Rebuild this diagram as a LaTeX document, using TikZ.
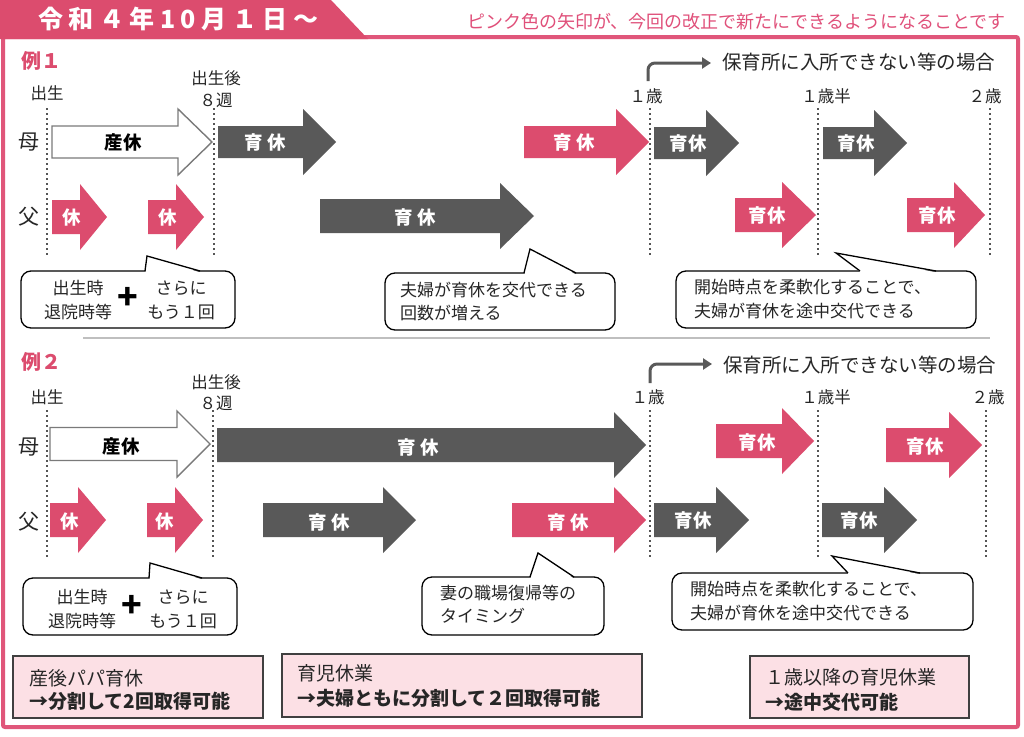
\documentclass[tikz,border=0pt]{standalone}
\usepackage{fontspec}
\setmainfont{Noto Sans CJK JP}
\usetikzlibrary{arrows.meta}
\definecolor{pk}{HTML}{DC4C6E}
\definecolor{pkframe}{HTML}{E0567A}
\definecolor{pktext}{HTML}{E0507A}
\definecolor{dk}{HTML}{595959}
\definecolor{dt}{HTML}{555555}
\definecolor{boxfill}{HTML}{FCE0E5}
\newcommand\fsz[2]{\fontsize{#1}{#2}\selectfont}
% #1 style, #2 x-start, #3 x-tip, #4 y-center, #5 head length, #6 body half height
\newcommand\harrow[6]{\path[#1] (#2,{#4-#6}) -- ({#3-#5},{#4-#6}) -- ({#3-#5},{#4-33}) -- (#3,#4) -- ({#3-#5},{#4+33}) -- ({#3-#5},{#4+#6}) -- (#2,{#4+#6}) -- cycle;}
% #1 x1, #2 top, #3 x2, #4 bottom, #5 base left, #6 base right, #7 tip x, #8 tip y
\newcommand\callout[8]{%
  \draw[callbox] (#1,#2) rectangle (#3,#4);
  \fill[white] ({#5+0.6},{#2+1.2}) -- (#7,#8) -- ({#6-0.6},{#2+1.2}) -- cycle;
  \draw[callline] (#5,#2) -- (#7,#8) -- (#6,#2);}
\begin{document}
\begin{tikzpicture}[x=1pt,y=-1pt,
  pkarrow/.style={fill=pk},
  dkarrow/.style={fill=dk},
  wharrow/.style={fill=white, draw=dk!80, line width=1.4},
  atxt/.style={text=white, font=\fsz{18.5}{20}\bfseries, inner sep=0},
  lbl/.style={font=\fsz{16.5}{20}, inner sep=0, text=black!85},
  rowlbl/.style={font=\fsz{21}{22}, inner sep=0, text=black!85},
  dotl/.style={draw=dt, line width=2.6, dash pattern=on 2.4 off 2.6},
  callbox/.style={draw=black, fill=white, line width=1.3, rounded corners=10},
  callline/.style={draw=black, line width=1.3, line join=miter},
  ctxt/.style={font=\fsz{17}{23.5}, inner sep=0, align=left, text=black!85},
  ccent/.style={font=\fsz{17}{20}, inner sep=0, text=black!85},
  plus/.style={font=\fsz{34}{34}\bfseries, inner sep=0},
  bentarrow/.style={draw=dk, line width=3, rounded corners=7, -{Triangle[length=9,width=11]}},
  benttxt/.style={font=\fsz{19.5}{22}, inner sep=0, text=black!85, anchor=west},
  botbox/.style={fill=boxfill, draw=black!75, line width=1.5},
  btxt/.style={font=\fsz{19}{22}, inner sep=0, anchor=west, text=black!85},
  exlbl/.style={font=\fsz{20}{22}\bfseries, inner sep=0, text=pk, anchor=west}]
\useasboundingbox (0,0) rectangle (1024,736);
\fill[white] (0,0) rectangle (1024,736);

% frame and header
\draw[pkframe, line width=4, rounded corners=2] (3,37) rectangle (1018,727);
\fill[pk] (0,0) -- (331,0) -- (368,39) -- (0,39) -- cycle;
\node[text=white, font=\fsz{25}{28}\bfseries\addfontfeatures{LetterSpace=22}, inner sep=0, anchor=west] (title) at (38,19) {令和４年10月１日～};
\node[text=pktext, font=\fsz{18}{20}, inner sep=0, anchor=east] (note) at (1006,22) {ピンク色の矢印が、今回の改正で新たにできるようになることです};

% ===== Example 1 =====
\node[exlbl] (ex1) at (21,61) {例１};
\foreach \x in {47,214,650,818,990} {\draw[dotl] (\x,108) -- (\x,256);}
\node[lbl] (e1birth) at (47,93) {出生};
\node[lbl] (e1after) at (216,78) {出生後};
\node[lbl] (e1w8) at (216,100) {８週};
\node[lbl] (e1y1) at (646,96) {１歳};
\node[lbl] (e1y15) at (826,96) {１歳半};
\node[lbl] (e1y2) at (985,96) {２歳};
\coordinate (b1s) at (648,81);
\coordinate (b1e) at (711,63);
\draw[bentarrow] (b1s) |- (b1e);
\node[benttxt] (b1t) at (722,62) {保育所に入所できない等の場合};
\node[rowlbl] (e1m) at (29,142) {母};
\node[rowlbl] (e1f) at (29,217) {父};

\harrow{wharrow}{52}{212}{142}{34}{16}
\harrow{dkarrow}{218}{336}{142}{33}{16}
\harrow{pkarrow}{524}{649}{142}{33}{16}
\harrow{dkarrow}{654}{739}{143}{33}{16}
\harrow{dkarrow}{823}{907}{143}{33}{16}
\harrow{pkarrow}{52}{107}{217}{27}{17}
\harrow{pkarrow}{148}{204}{217}{28}{17}
\harrow{dkarrow}{320}{534}{216}{34}{17}
\harrow{pkarrow}{735}{816}{215}{34}{17}
\harrow{pkarrow}{907}{985}{215}{31}{17}

\node[atxt, text=black] (a1) at (123,142) {産休};
\node[atxt] (a2) at (265,142) {育 休};
\node[atxt] (a3) at (574,142) {育 休};
\node[atxt] (a4) at (688,143) {育休};
\node[atxt] (a5) at (856,143) {育休};
\node[atxt] (a6) at (72,218) {休};
\node[atxt] (a7) at (168,218) {休};
\node[atxt] (a8) at (415,217) {育 休};
\node[atxt] (a9) at (767,215) {育休};
\node[atxt] (a10) at (937,215) {育休};

\callout{21}{271}{235}{328}{145}{200}{147}{256}
\node[ccent] (c1a1) at (78,288.5) {出生時};
\node[ccent] (c1a2) at (78,312.5) {退院時等};
\node[plus] (c1p) at (128,298) {+};
\node[ccent] (c1b1) at (181,288.5) {さらに};
\node[ccent] (c1b2) at (181,312.5) {もう１回};
\callout{385}{273}{615}{330}{524}{576}{530}{249}
\node[ctxt, anchor=west] (c2) at (400,301.5) {夫婦が育休を交代できる\\回数が増える};
\callout{676}{271}{976}{328}{860}{936}{836}{253}
\node[ctxt, anchor=west] (c3) at (694,299) {開始時点を柔軟化することで、\\夫婦が育休を途中交代できる};

\draw[black!25, line width=2] (83,338) -- (990,338);

% ===== Example 2 =====
\node[exlbl] (ex2) at (21,362) {例２};
\foreach \x in {47,213,650,818,986} {\draw[dotl] (\x,410) -- (\x,558);}
\node[lbl] (e2birth) at (47,397) {出生};
\node[lbl] (e2after) at (216,382) {出生後};
\node[lbl] (e2w8) at (216,403) {８週};
\node[lbl] (e2y1) at (648,397) {１歳};
\node[lbl] (e2y15) at (826,397) {１歳半};
\node[lbl] (e2y2) at (988,397) {２歳};
\coordinate (b2s) at (650,383);
\coordinate (b2e) at (712,364);
\draw[bentarrow] (b2s) |- (b2e);
\node[benttxt] (b2t) at (723,365) {保育所に入所できない等の場合};
\node[rowlbl] (e2m) at (29,447) {母};
\node[rowlbl] (e2f) at (29,522) {父};

\harrow{wharrow}{50}{210}{444}{33}{16.5}
\harrow{dkarrow}{217}{646}{445}{32}{17}
\harrow{pkarrow}{716}{814}{441}{32}{17}
\harrow{pkarrow}{886}{982}{445}{33}{17}
\harrow{pkarrow}{50}{106}{520}{28}{17}
\harrow{pkarrow}{147}{203}{520}{28}{17}
\harrow{dkarrow}{263}{416}{520}{33}{17}
\harrow{pkarrow}{512}{646}{520}{32}{17}
\harrow{dkarrow}{654}{749}{520}{33}{17}
\harrow{dkarrow}{822}{917}{520}{33}{17}

\node[atxt, text=black] (d1) at (121,446) {産休};
\node[atxt] (d2) at (418,447) {育 休};
\node[atxt] (d3) at (757,442) {育休};
\node[atxt] (d4) at (925,446) {育休};
\node[atxt] (d5) at (70,522) {休};
\node[atxt] (d6) at (165,522) {休};
\node[atxt] (d7) at (329,522) {育 休};
\node[atxt] (d8) at (568,522) {育 休};
\node[atxt] (d9) at (693,520) {育休};
\node[atxt] (d10) at (859,520) {育休};

\callout{23}{578}{237}{635}{149}{202}{150}{563}
\node[ccent] (f1a1) at (82,597) {出生時};
\node[ccent] (f1a2) at (82,621) {退院時等};
\node[plus] (f1p) at (132,606) {+};
\node[ccent] (f1b1) at (183,597) {さらに};
\node[ccent] (f1b2) at (183,621) {もう１回};
\callout{422}{577}{604}{635}{530}{574}{538}{553}
\node[ctxt, anchor=west] (f2) at (440,604.5) {妻の職場復帰等の\\タイミング};
\callout{672}{573}{973}{630}{848}{920}{832}{556}
\node[ctxt, anchor=west] (f3) at (690,601) {開始時点を柔軟化することで、\\夫婦が育休を途中交代できる};

% ===== bottom boxes =====
\draw[botbox] (13,656) rectangle (263,718);
\node[btxt] (g1a) at (29,678) {産後パパ育休};
\node[btxt, font=\fsz{19}{22}\bfseries] (g1b) at (29,701) {→分割して2回取得可能};
\draw[botbox] (282,654) rectangle (642,717);
\node[btxt] (g2a) at (297,673) {育児休業};
\node[btxt, font=\fsz{19}{22}\bfseries] (g2b) at (297,698) {→夫婦ともに分割して２回取得可能};
\draw[botbox] (750,656) rectangle (969,718);
\node[btxt] (g3a) at (765,677) {１歳以降の育児休業};
\node[btxt, font=\fsz{19}{22}\bfseries] (g3b) at (765,702) {→途中交代可能};
\end{tikzpicture}
\end{document}
